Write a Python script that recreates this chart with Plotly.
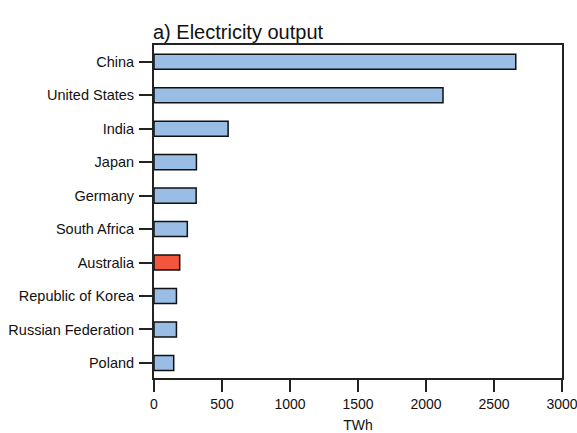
import plotly.graph_objects as go

# Electricity output by country (TWh)
countries = ["China", "United States", "India", "Japan", "Germany",
             "South Africa", "Australia", "Republic of Korea",
             "Russian Federation", "Poland"]
output_twh = [2660, 2125, 545, 312, 310, 245, 189, 165, 165, 145]
highlight = "Australia"

x_ticks = [0, 500, 1000, 1500, 2000, 2500, 3000]

BLUE = "#99bde4"
RED = "#f3553d"
colors = [RED if c == highlight else BLUE for c in countries]

FONT = "Liberation Sans, Arial, Helvetica, sans-serif"

fig = go.Figure(
    go.Bar(
        x=output_twh,
        y=countries,
        orientation="h",
        width=0.45,
        marker=dict(color=colors, line=dict(color="#111111", width=1.5)),
        showlegend=False,
    )
)

fig.update_layout(
    width=577,
    height=433,
    margin=dict(l=154, r=15, t=45, b=55),
    paper_bgcolor="white",
    plot_bgcolor="white",
    font=dict(family=FONT, size=14, color="#111111"),
    title=dict(
        text="a) Electricity output",
        font=dict(family=FONT, size=20, color="#111111"),
        x=153 / 577,
        xref="container",
        xanchor="left",
        y=1 - 32 / 433,
        yref="container",
        yanchor="middle",
    ),
)

fig.update_xaxes(
    range=[0, 3000.01],
    tickvals=x_ticks,
    ticktext=[str(v) for v in x_ticks],
    ticks="outside",
    ticklen=12,
    tickwidth=2,
    tickcolor="#222222",
    showline=True,
    linewidth=2,
    linecolor="#222222",
    mirror=True,
    showgrid=False,
    zeroline=False,
    tickfont=dict(size=14),
    ticklabeloverflow="allow",
    title=dict(text="TWh", font=dict(size=14), standoff=10),
    automargin=False,
)

fig.update_yaxes(
    categoryorder="array",
    categoryarray=countries,
    range=[9.45, -0.5],
    ticks="outside",
    ticklen=13,
    tickwidth=2,
    tickcolor="#222222",
    showline=True,
    linewidth=2,
    linecolor="#222222",
    mirror=True,
    showgrid=False,
    zeroline=False,
    tickfont=dict(size=14.5),
    ticklabelstandoff=2,
    automargin=False,
)

fig.write_html("out.html")
